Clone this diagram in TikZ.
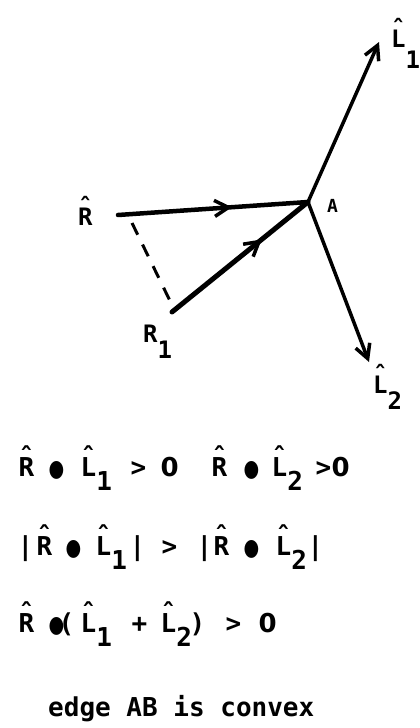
\documentclass[tikz,border=0pt]{standalone}
\usepackage{fontspec}
\setmonofont{DejaVu Sans Mono}
\newfontfamily\symfont{DejaVu Sans}
\usetikzlibrary{arrows.meta,positioning,decorations.markings}

\newcommand{\vhat}[1]{\rlap{\raisebox{0.38em}{\char"02C6}}#1}
\newcommand{\lowsub}[2][0.56em]{\raisebox{-#1}{#2}}
\newcommand{\dotop}{{\symfont\fontsize{18}{18}\selectfont\scalebox{1}[1.3]{●}}}
\newcommand{\zero}{{\symfont 0}}
\newcommand{\tok}[2]{\rlap{\hspace{#1pt}#2}}

\begin{document}
\begin{tikzpicture}[x=1pt,y=-1pt,
  vec/.style={line width=4.5pt,line cap=round},
  arrowend/.style={-{Straight Barb[length=14pt,width=15pt,line width=3.5pt]}},
  midarrow/.style={postaction={decorate},decoration={markings,
    mark=at position #1 with {\arrow{Straight Barb[length=14pt,width=16pt,line width=3.5pt]}}}},
  lbl/.style={anchor=base west,inner sep=0pt,font=\ttfamily\bfseries\fontsize{24}{24}\selectfont},
  eqn/.style={anchor=base west,inner sep=0pt,font=\ttfamily\bfseries\fontsize{26}{26}\selectfont}]
  \useasboundingbox (0,0) rectangle (420,728);

  % vectors at the vertex A
  \coordinate (A) at (308,202);
  \coordinate (Rs) at (118,215);
  \coordinate (R1s) at (172,312);
  \coordinate (L1e) at (379,42);
  \coordinate (L2e) at (369,362);
  \coordinate (Dtop) at (132,223);
  \coordinate (Dbot) at (173,307);

  \draw[vec,midarrow=0.6] (Rs) -- (A);
  \draw[vec,line width=5pt,midarrow=0.66] (R1s) -- (A);
  \draw[vec,line width=3.5pt,arrowend] (A) -- (L1e);
  \draw[vec,line width=3.5pt,arrowend] (A) -- (L2e);
  \draw[line width=3pt,dash pattern=on 13pt off 11pt] (Dtop) -- (Dbot);

  \node[lbl] (Rhat) at (78,225) {\vhat{R}};
  \node[lbl,font=\ttfamily\bfseries\fontsize{18}{18}\selectfont] (Alab) at (327,212) {A};
  \node[lbl] (L1lab) at (391,47) {\vhat{L}\lowsub[0.9em]{1}};
  \node[lbl] (L2lab) at (373,393) {\vhat{L}\lowsub[0.7em]{2}};
  \node[lbl] (R1lab) at (143,342) {R\lowsub[0.67em]{1}};

  % conditions
  \node[eqn] (c1) at (0,476) {\tok{18}{\vhat{R}}\tok{48}{\dotop}\tok{80}{\vhat{L}\lowsub{1}}\tok{130}{>}\tok{160}{\zero}%
    \tok{211}{\vhat{R}}\tok{243}{\dotop}\tok{271}{\vhat{L}\lowsub{2}}\tok{315}{>}\tok{331}{\zero}};
  \node[eqn] (c2) at (0,555) {\tok{17}{|}\tok{36}{\vhat{R}}\tok{65}{\dotop}\tok{95}{\vhat{L}\lowsub{1}}\tok{129}{|}\tok{161}{>}%
    \tok{196}{|}\tok{213}{\vhat{R}}\tok{243}{\dotop}\tok{275}{\vhat{L}\lowsub{2}}\tok{307}{|}};
  \node[eqn] (c3) at (0,632) {\tok{18}{\vhat{R}}\tok{48}{\dotop}\tok{58}{(}\tok{80}{\vhat{L}\lowsub{1}}\tok{131}{+}%
    \tok{160}{\vhat{L}\lowsub{2}}\tok{189}{)}\tok{225}{>}\tok{258}{\zero}};
  \node[eqn] (c4) at (48,716) {edge AB is convex};
\end{tikzpicture}
\end{document}
